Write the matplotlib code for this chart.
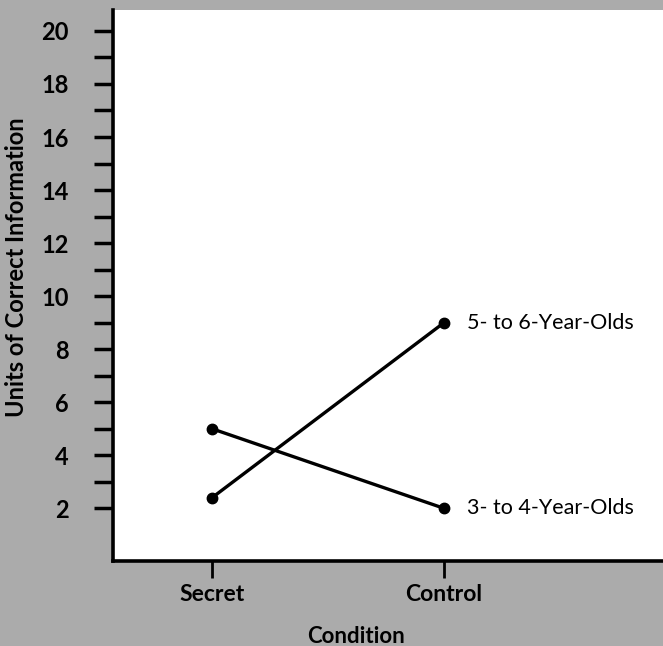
import matplotlib
matplotlib.use("Agg")
import matplotlib.pyplot as plt

conditions = ["Secret", "Control"]
older = [2.4, 9.0]     # 5- to 6-Year-Olds
younger = [5.0, 2.0]   # 3- to 4-Year-Olds
series_labels = ["5- to 6-Year-Olds", "3- to 4-Year-Olds"]
y_major = [2, 4, 6, 8, 10, 12, 14, 16, 18, 20]
y_all = list(range(2, 21))

plt.rcParams['font.family'] = ['Lato', 'DejaVu Sans']

bg = "#ababab"
fig = plt.figure(figsize=(6.63, 6.46), dpi=100, facecolor=bg)
ax = fig.add_axes([0.1704, 0.131, 0.8296, 0.854])
ax.set_facecolor("white")

x = list(range(len(conditions)))
ax.plot(x, older, color="black", linewidth=2.4, marker="o", markersize=7.5, solid_capstyle="round")
ax.plot(x, younger, color="black", linewidth=2.4, marker="o", markersize=7.5, solid_capstyle="round")

# direct labels at the right end of each line
ax.text(x[-1] + 0.1, older[-1], series_labels[0], fontsize=15.5, va="center", ha="left")
ax.text(x[-1] + 0.1, younger[-1], series_labels[1], fontsize=15.5, va="center", ha="left")

ax.set_xlim(-0.427, 1.944)
ax.set_ylim(0, 20.8)

ax.set_xticks(x)
ax.set_xticklabels(conditions, fontsize=16.5, fontweight="bold")
ax.set_yticks(y_all)
ax.set_yticklabels([str(v) if v in y_major else "" for v in y_all], fontsize=17, fontweight="bold")
ax.tick_params(axis="y", direction="out", length=14, width=2.5, pad=18)
ax.tick_params(axis="x", direction="out", length=12, width=2.0, pad=4)

for s in ["top", "right"]:
    ax.spines[s].set_visible(False)
for s in ["left", "bottom"]:
    ax.spines[s].set_linewidth(2.6)

ax.set_xlabel("Condition", fontsize=16, fontweight="bold")
ax.xaxis.set_label_coords(0.442, -0.118)
ax.set_ylabel("Units of Correct Information", fontsize=17, fontweight="bold")
ax.yaxis.set_label_coords(-0.155, 0.533)

fig.savefig("out.png", dpi=100, facecolor=bg)
